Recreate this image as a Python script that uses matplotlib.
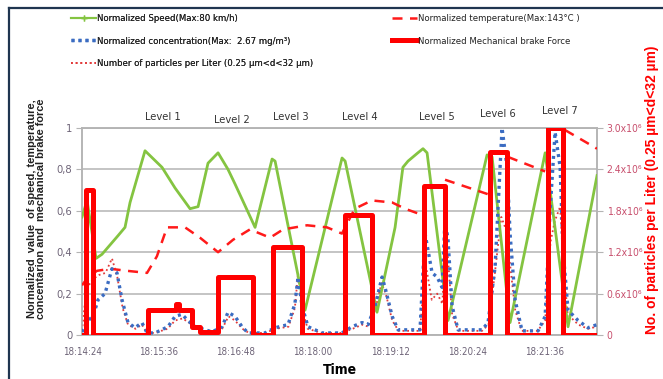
import matplotlib
matplotlib.use("Agg")
import matplotlib.pyplot as plt
from matplotlib.lines import Line2D
import numpy as np

plt.rcParams['font.family'] = ['DejaVu Sans Condensed', 'DejaVu Sans']
plt.rcParams['font.stretch'] = 'condensed'

# time in seconds after 18:14:24
t0 = 18 * 3600 + 14 * 60 + 24
t_end = 481.5

speed_t = [0, 4.7, 13.1, 18.7, 33.7, 40.2, 44.9, 58.9, 74.8, 87, 101, 108.5, 117.8, 127.2,
           136.5, 143, 161.8, 177.7, 180.5, 208.5, 243.1, 246, 275.8, 292.7, 300, 304.8,
           314, 318.8, 322.6, 342.2, 378.7, 383.4, 400.2, 433, 454.4, 481.5]
speed_v = [0.57, 0.65, 0.37, 0.39, 0.48, 0.52, 0.64, 0.89, 0.81, 0.71, 0.61, 0.62, 0.83, 0.88,
           0.80, 0.73, 0.52, 0.85, 0.84, 0.12, 0.855, 0.84, 0.11, 0.52, 0.81, 0.84,
           0.88, 0.90, 0.88, 0.07, 0.87, 0.86, 0.06, 0.88, 0.04, 0.77]

temp_t = [0, 5.6, 14, 26.2, 42, 60.8, 70, 79.5, 96.3, 110.3, 127.2, 141.2, 157, 175.8, 188,
          210.4, 229, 243, 255, 271, 290, 302, 318, 328, 339.4, 379.6, 390, 398.3, 433, 442,
          451.6, 481.5]
temp_v = [0.24, 0.28, 0.31, 0.32, 0.31, 0.30, 0.38, 0.52, 0.52, 0.47, 0.40, 0.46, 0.51, 0.47, 0.51,
          0.53, 0.52, 0.49, 0.61, 0.65, 0.64, 0.61, 0.58, np.nan, 0.75, 0.68, np.nan, 0.86, 0.79, np.nan,
          0.99, 0.90]

conc_t = [0, 5.6, 10.3, 15, 21.5, 28, 32.7, 37.4, 43, 49.6, 56, 60.8, 68.3, 80.4, 87, 93.5, 99,
          105.7, 112.2, 121.6, 131, 136.5, 143, 149.6, 155.2, 171, 180.5, 192.6, 199, 202, 205.7,
          211.3, 224.4, 243, 252.5, 261.8, 267.4, 274, 280.5, 283.3, 290, 295.5, 316, 320.7, 327.3,
          332, 336.6, 339.4, 342.2, 346, 351.6, 374, 379.6, 386.2, 392.7, 397.4, 400.2, 404.9,
          411.4, 426.4, 433, 437.6, 442.3, 447, 449.7, 454.4, 463.8, 473.1, 481.5]
conc_v = [0.015, 0.07, 0.09, 0.17, 0.20, 0.32, 0.30, 0.17, 0.06, 0.035, 0.06, 0.01, 0.01, 0.04, 0.09,
          0.10, 0.07, 0.04, 0.03, 0.015, 0.04, 0.11, 0.09, 0.04, 0.01, 0.01, 0.035, 0.05, 0.15, 0.28,
          0.14, 0.04, 0.01, 0.01, 0.04, 0.06, 0.05, 0.14, 0.28, 0.23, 0.09, 0.025, 0.025, 0.49, 0.30,
          0.28, 0.23, 0.56, 0.46, 0.14, 0.025, 0.025, 0.06, 0.33, 1.0, 0.81, 0.49, 0.17,
          0.02, 0.02, 0.09, 0.60, 0.98, 0.81, 0.41, 0.12, 0.07, 0.035, 0.05]

# particles per liter, in millions
part_t = [0, 4, 10, 16, 22, 28, 33, 38, 43, 50, 56, 61, 68, 80, 87, 94, 100, 106, 113, 122, 131,
          137, 143, 150, 156, 171, 181, 193, 199, 202, 206, 211, 224, 243, 253, 262, 268, 274, 280,
          284, 290, 296, 316, 321, 327, 332, 337, 339, 342, 346, 352, 374, 380, 386, 392, 397, 400,
          405, 411, 426, 433, 438, 442, 447, 450, 454, 464, 473, 481]
part_m = [0.06, 0.66, 0.81, 0.87, 0.90, 1.11, 0.84, 0.39, 0.15, 0.09, 0.15, 0.03, 0.03, 0.09, 0.21,
          0.24, 0.18, 0.09, 0.06, 0.03, 0.09, 0.27, 0.21, 0.09, 0.03, 0.03, 0.09, 0.12, 0.39, 0.90,
          0.36, 0.09, 0.03, 0.03, 0.09, 0.15, 0.12, 0.36, 0.75, 0.60, 0.21, 0.06, 0.06, 1.05, 0.51,
          0.60, 0.45, 1.35, 1.14, 0.30, 0.06, 0.06, 0.15, 0.90, 1.71, 1.50, 1.05, 0.36, 0.06, 0.06,
          0.21, 1.35, 1.65, 1.86, 1.05, 0.30, 0.15, 0.09, 0.12]

# brake force: segment start times and levels (step plot)
brake_t = [0, 3.7, 10.3, 61.7, 88, 91, 102.9, 110, 127, 160, 178.6, 205.7, 246, 271, 319.8, 339.4,
           381.5, 397.4, 435.7, 449.7, 481.5]
brake_v = [0, 0.70, 0, 0.12, 0.15, 0.12, 0.04, 0.015, 0.28, 0, 0.425, 0, 0.58, 0, 0.72, 0,
           0.885, 0, 1.0, 0, 0]

levels = ['Level 1', 'Level 2', 'Level 3', 'Level 4', 'Level 5', 'Level 6', 'Level 7']
level_x = [75.7, 140, 195.4, 260, 332, 389, 447]
level_y = [1.053, 1.039, 1.053, 1.053, 1.053, 1.068, 1.082]

xticks = np.arange(0, 433, 72)
xlabels = ['%02d:%02d:%02d' % ((t0 + s) // 3600, (t0 + s) % 3600 // 60, (t0 + s) % 60) for s in xticks]

fig = plt.figure(figsize=(6.63, 3.79), dpi=100)
ax = fig.add_axes([0.1237, 0.1161, 0.7768, 0.5462])
ax2 = ax.twinx()
ax.set_zorder(2)
ax2.set_zorder(1)
ax.patch.set_visible(False)

grid_c = '#b4b4b4'
lab_c = '#6e6478'
red_lab = '#c8506e'

l_speed, = ax.plot(speed_t, speed_v, color='#84c441', lw=2.0, zorder=3)
l_temp, = ax.plot(temp_t, temp_v, color='#ff1a1a', lw=1.8, dashes=(4, 3), zorder=3)
l_conc, = ax.plot(conc_t, conc_v, color='#3b6cc2', lw=2.4, linestyle=(0, (0.9, 1.2)),
                  dash_capstyle='butt', zorder=4)
l_part, = ax2.plot(part_t, np.array(part_m) * 1e6, color='#e23a3a', lw=1.3,
                   linestyle=(0, (1, 1.6)), zorder=3)
l_brake, = ax.step(brake_t, brake_v, where='post', color='#ff0000', lw=3.6, zorder=5)

ax.set_xlim(0, t_end)
ax.set_ylim(0, 1)
ax2.set_ylim(0, 3.0e6)

ax.set_xticks(xticks)
ax.set_xticklabels(xlabels)
ax.set_yticks([0, 0.2, 0.4, 0.6, 0.8, 1.0])
ax.set_yticklabels(['0', '0,2', '0,4', '0,6', '0,8', '1'])
ax2.set_yticks([0, 0.6e6, 1.2e6, 1.8e6, 2.4e6, 3.0e6])
ax2.set_yticklabels(['0', '0.6x10⁶', '1.2x10⁶', '1.8x10⁶', '2.4x10⁶', '3.0x10⁶'])

ax2.grid(True, color=grid_c, lw=1.1)
ax2.set_axisbelow(True)
for a in (ax, ax2):
    for sp in a.spines.values():
        sp.set_color(grid_c)
        sp.set_linewidth(1.1)
ax.tick_params(axis='x', colors=grid_c, labelcolor=lab_c, labelsize=7, length=0, pad=9)
ax.tick_params(axis='y', colors=grid_c, labelcolor=lab_c, labelsize=8, length=4, pad=3)
ax2.tick_params(axis='y', colors=grid_c, labelcolor=red_lab, labelsize=7.5, length=4, pad=3)

for name, lx, ly in zip(levels, level_x, level_y):
    ax.text(lx, ly, name, ha='center', va='center', fontsize=8, color='#333333', clip_on=False)

ax.set_xlabel('Time', fontsize=10, fontweight='bold', labelpad=4)
fig.text(0.055, 0.45, 'Normalized  value  of speed, temperature,\nconcentarion and  mechanical brake force',
         rotation=90, ha='center', va='center', fontsize=7.9, fontweight='bold', stretch='normal',
         family='Liberation Sans', linespacing=0.9, color='#222222')
fig.text(0.983, 0.5, 'No. of particles per Liter (0.25 µm<d<32 µm)', rotation=90, ha='center',
         va='center', fontsize=10, fontweight='bold', stretch='normal',
         family=['Liberation Sans', 'DejaVu Sans'], color='#ff0000')

# legend
h_speed = Line2D([0, 0.5, 1], [0, 0, 0], color='#84c441', lw=1.5, marker='+', markersize=4, markevery=[1])
leg1 = fig.legend([h_speed, l_conc, l_part],
                  ['Normalized Speed(Max:80 km/h)', 'Normalized concentration(Max:  2.67 mg/m³)',
                   'Number of particles per Liter (0.25 µm<d<32 µm)'],
                  loc='upper left', bbox_to_anchor=(0.094, 0.985), frameon=False, fontsize=6.8,
                  handlelength=2.7, handletextpad=0.1, labelspacing=1.42)
leg2 = fig.legend([l_temp, l_brake],
                  ['Normalized temperature(Max:143°C )', 'Normalized Mechanical brake Force'],
                  loc='upper left', bbox_to_anchor=(0.578, 0.985), frameon=False, fontsize=6.8,
                  handlelength=2.7, handletextpad=0.1, labelspacing=1.42)
for leg in (leg1, leg2):
    for txt in leg.get_texts():
        txt.set_color('#222222')
fig.add_artist(leg1)

# outer frame (top and left)
fig.add_artist(Line2D([0.0136, 1.0], [0.979, 0.979], color='#1f3550', lw=1.6))
fig.add_artist(Line2D([0.0136, 0.0136], [0.0, 0.979], color='#1f3550', lw=1.6))

fig.savefig('out.png', dpi=100)
